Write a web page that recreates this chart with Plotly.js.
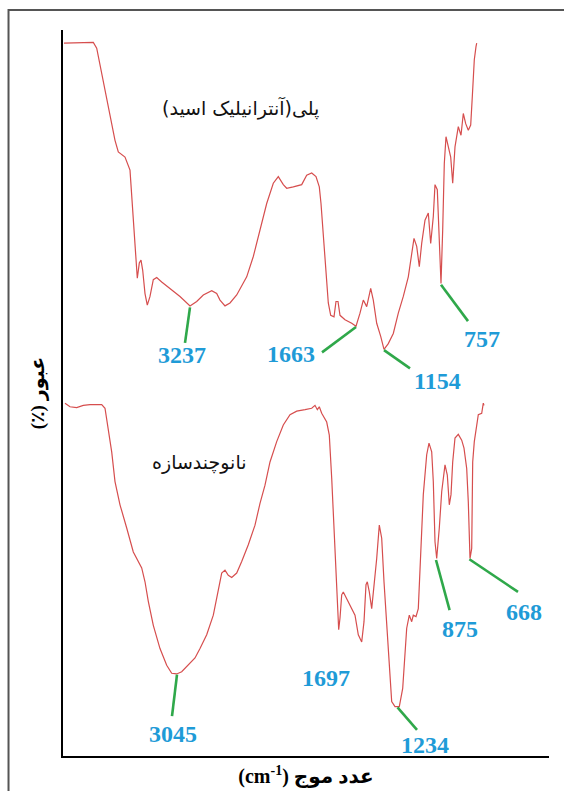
<!DOCTYPE html>
<html>
<head>
<meta charset="utf-8">
<script src="https://cdn.plot.ly/plotly-3.0.1.min.js"></script>
<style>
html,body{margin:0;padding:0;background:#ffffff;}
#chart{width:564px;height:791px;}
</style>
</head>
<body>
<div id="chart"></div>
<script>
// ---- Data (position along the wavenumber axis, arbitrary units; transmittance %) ----
const polyX = [1,30.3,33.7,40.3,47,52,55.3,62,67,68.7,71,73,74.3,76.3,78,79.7,82,84.3,87,90.3,93.7,98.7,107,117,127,133.7,140.3,148.7,153.7,157,162,167,173.7,183.7,190.3,197,203.7,210.3,215.3,220.3,223.7,230.3,238.7,243.7,248.7,253,256.3,258,260.3,263,265.3,267.7,271,273,275,277,282,288.7,293,297,300.3,303.7,307.7,310.3,313.7,317.7,321,325.3,330.3,335.3,340.3,345.3,348.7,351,353.7,356.3,358.7,362,365.3,367.7,370.3,372,374.3,376.3,378,379.7,381.3,383,385.3,387.7,389.7,392,395.3,398,400.3,402.7,405.3,407.7,409.3,410.3,411.3,413,413.7];
const polyT = [98.2,98.3,97.5,93.1,88.6,84.8,83.2,82.5,80.7,77.0,72.5,67.9,65.8,67.9,68.3,66.9,63.7,62.1,63.3,65.6,65.9,65.3,64.4,63.3,62.0,62.6,63.5,64.1,63.7,62.8,62.0,62.4,63.5,66.0,68.8,72.3,76.1,78.9,79.8,78.7,78.2,78.4,78.7,80.0,80.3,79.8,78.4,76.1,71.5,66.0,62.4,60.7,60.5,62.6,62.6,60.7,60.1,59.6,59.2,61.0,62.8,61.9,64.4,62.8,59.6,57.8,56.0,56.8,58.2,61.0,63.3,66.0,68.8,71.3,70.2,67.4,70.6,73.8,74.8,70.6,74.3,78.7,78.0,70.6,65.1,72.5,81.6,85.3,83.9,82.5,78.9,83.9,86.7,85.5,88.5,87.1,86.2,86.9,90.8,93.1,95.9,97.7,98.2];

const compX = [2,7,13.7,20.3,27,38.7,42,45.3,48.7,52,57,63.7,70.3,78.7,82,85.3,90.3,97,103.7,108.7,113.7,118.7,125.3,132,137,143.7,150.3,155.3,158.7,162,165.3,168.7,173.7,178.7,185.3,192,197,202,207,213.7,220.3,227,233.7,242,248.7,252,254.3,256.3,258.7,263.7,266.3,268.7,271,273,274.3,275.7,277,278.7,280.3,283.7,288.7,292,295.3,298.7,301,303,304.3,306.3,308.7,311,313.7,316.3,318.7,321,323.7,326.3,328.7,332,336.3,339.7,342,343.7,346.3,348.7,350.3,353,355.3,357.7,360.3,363.7,366,368.7,370.3,372,373.7,376.3,378.7,382,384.3,386.3,388,389.7,392,395.3,398.7,401,403.7,405.3,407,408.7,409.7,411.3,413.7,415.3,418.7,420.3,421];
const compT = [48.6,48.1,48.0,48.3,48.4,48.4,47.9,45.1,41.9,37.8,34.6,31.4,28.1,25.9,24.0,21.3,18.0,14.8,12.5,11.4,11.3,11.6,12.5,13.5,14.8,16.7,19.4,22.6,25.2,25.6,24.9,24.6,25.2,26.8,29.1,31.8,34.8,37.3,40.5,43.3,45.6,47.0,47.5,47.7,47.9,48.3,47.7,48.1,47.2,46.0,44.2,38.3,31.4,24.9,19.4,17.4,19.0,22.2,22.6,21.7,20.3,19.4,16.7,15.7,18.5,23.6,24.0,22.6,20.3,23.1,27.2,31.8,30.0,24.0,17.6,12.1,7.5,6.8,6.8,9.3,13.9,17.6,19.4,18.5,19.4,19.2,20.3,29.1,36.0,41.5,43.1,41.9,37.8,29.5,27.2,31.4,36.4,40.1,38.7,34.6,36.0,40.5,43.8,44.3,43.5,42.4,39.6,35.0,27.2,28.6,40.5,43.3,46.0,47.0,47.2,48.6,48.3];

// Peak labels (wavenumbers, cm-1) and the curve point each one marks
const peakLabels = ['3237','1663','1154','757','3045','1697','1234','875','668'];
const peakX      = [127, 293, 321, 378, 114, null, 334.5, 373, 406.4];
const peakT      = [61.8, 59.1, 55.9, 64.9, 11.2, null, 6.7, 27.0, 27.1];

const seriesNames = ['پلی(آنترانیلیک اسید)', 'نانوچندسازه'];

// ---- Placement of the annotation texts / leader lines (layout, not data) ----
const leaderEnd = [[122,56.9],[259,55.6],[347,53.4],[405,59.9],[109,5.5],null,[354,3.6],[386.6,20.1],[455,22.6]];
const labelPos  = [[118.5,55.2],[227.5,55.4],[374.5,51.7],[419,57.5],[109.7,3.0],[262.5,10.7],[361.5,1.5],[397,17.5],[461,19.9]];
const seriesPos = [[177,89.3],[136,40.4]];

const RLM = '\u200F';
const curveStyle = {color:'rgb(214,78,78)', width:1.2};

const traces = [
  {x: polyX, y: polyT, type:'scatter', mode:'lines', line: curveStyle, name: seriesNames[0], hoverinfo:'skip'},
  {x: compX, y: compT, type:'scatter', mode:'lines', line: curveStyle, name: seriesNames[1], hoverinfo:'skip'}
];

const annotations = [];
const shapes = [];
peakLabels.forEach((lab, i) => {
  annotations.push({
    x: labelPos[i][0], y: labelPos[i][1], xref:'x', yref:'y',
    text: lab, showarrow:false, xanchor:'center', yanchor:'middle',
    font:{family:'Liberation Serif, Times New Roman, serif', size:24, color:'#1f9bd7', weight:700}
  });
  if (peakX[i] !== null && leaderEnd[i]) {
    shapes.push({type:'line', xref:'x', yref:'y',
      x0: peakX[i], y0: peakT[i], x1: leaderEnd[i][0], y1: leaderEnd[i][1],
      line:{color:'#2fa84a', width:2.6}});
  }
});
seriesNames.forEach((nm, i) => {
  annotations.push({
    x: seriesPos[i][0], y: seriesPos[i][1], xref:'x', yref:'y',
    text: RLM + nm + RLM, showarrow:false, xanchor:'center', yanchor:'middle',
    font:{family:'DejaVu Sans, sans-serif', size:19, color:'#111111'}
  });
});

// outer grey frame of the figure
shapes.push({type:'rect', xref:'paper', yref:'paper', x0:-0.1121, x1:1.2, y0:-0.2, y1:1.0275,
  line:{color:'#555555', width:2}, fillcolor:'rgba(0,0,0,0)', layer:'below'});

const layout = {
  width:564, height:791,
  margin:{l:63, r:15, t:30, b:35, pad:0},
  paper_bgcolor:'#ffffff', plot_bgcolor:'#ffffff',
  showlegend:false,
  xaxis:{range:[0,486], showgrid:false, zeroline:false, showticklabels:false, ticks:'',
    showline:true, linecolor:'#000000', linewidth:2, fixedrange:true,
    title:{text:'(cm<sup>-1</sup>) عدد موج', standoff:12,
      font:{family:'Liberation Serif, DejaVu Sans, serif', size:20, color:'#000000', weight:700}}},
  yaxis:{range:[0,100], showgrid:false, zeroline:false, showticklabels:false, ticks:'',
    showline:true, linecolor:'#000000', linewidth:2, fixedrange:true,
    title:{text: RLM + 'عبور (٪)' + RLM, standoff:11,
      font:{family:'Liberation Serif, DejaVu Sans, serif', size:19, color:'#000000', weight:700}}},
  annotations: annotations,
  shapes: shapes
};

Plotly.newPlot('chart', traces, layout, {displayModeBar:false, staticPlot:true});
</script>
</body>
</html>
